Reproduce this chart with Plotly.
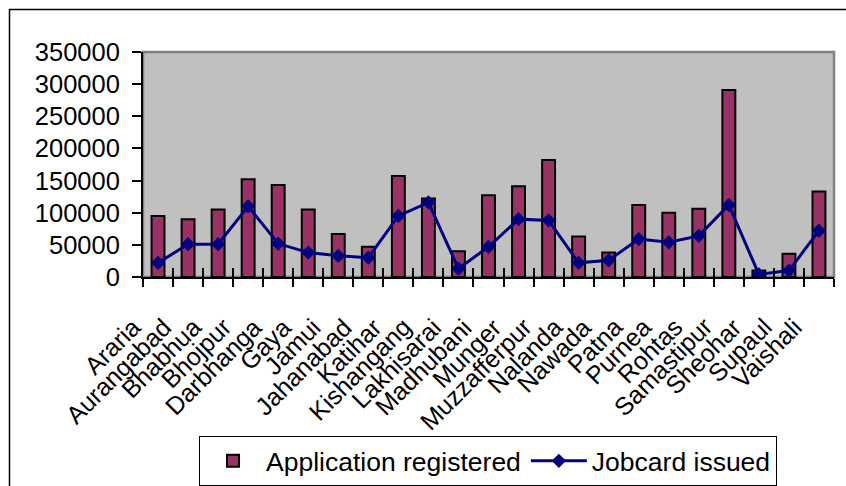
import plotly.graph_objects as go

# District-wise figures
districts = [
    "Araria", "Aurangabad", "Bhabhua", "Bhojpur", "Darbhanga", "Gaya", "Jamui",
    "Jahanabad", "Katihar", "Kishangang", "Lakhisarai", "Madhubani", "Munger",
    "Muzzafferpur", "Nalanda", "Nawada", "Patna", "Purnea", "Rohtas",
    "Samastipur", "Sheohar", "Supaul", "Vaishali",
]
applications_registered = [
    95000, 90000, 105000, 152000, 143000, 105000, 67000,
    47000, 157000, 122000, 40000, 127000, 141000,
    182000, 63000, 38000, 112000, 100000, 106000,
    291000, 10000, 36000, 133000,
]
jobcards_issued = [
    22000, 51000, 51000, 110000, 52000, 38000, 33000,
    30000, 95000, 116000, 13000, 47000, 90000,
    88000, 22000, 26000, 59000, 54000, 64000,
    112000, 4000, 10000, 72000,
]
y_ticks = [0, 50000, 100000, 150000, 200000, 250000, 300000, 350000]

FONT = "Liberation Sans, Arial, sans-serif"
BAR_COLOR = "#993366"
LINE_COLOR = "#000080"

fig = go.Figure()

fig.add_trace(go.Bar(
    x=districts,
    y=applications_registered,
    name="Application registered",
    marker=dict(color=BAR_COLOR, line=dict(color="#000000", width=2)),
))

fig.add_trace(go.Scatter(
    x=districts,
    y=jobcards_issued,
    name="Jobcard issued",
    mode="lines+markers",
    line=dict(color=LINE_COLOR, width=3),
    marker=dict(symbol="diamond", size=11, color=LINE_COLOR),
))

n = len(districts)
boundaries = [i - 0.5 for i in range(n + 1)]

# slanted district names, right/top end hung just left of each category
category_labels = [
    dict(x=name, xref="x", y=0, yref="paper",
         text=name, showarrow=False, textangle=-45,
         xanchor="right", yanchor="top", xshift=-9, yshift=-33,
         font=dict(family=FONT, size=25, color="#000000"))
    for name in districts
]

fig.update_layout(
    width=846,
    height=486,
    margin=dict(l=143, r=12, t=52, b=209, autoexpand=False),
    paper_bgcolor="#ffffff",
    plot_bgcolor="#C0C0C0",
    font=dict(family=FONT, size=25.5, color="#000000"),
    bargap=0.57,
    showlegend=True,
    legend=dict(
        orientation="h",
        x=0.4993, xanchor="center",
        y=-0.818, yanchor="middle",
        bordercolor="#000000", borderwidth=1,
        bgcolor="#ffffff",
        font=dict(family=FONT, size=26.5),
        itemwidth=56,
    ),
    xaxis=dict(
        type="category",
        range=[-0.5, n - 0.5],
        tickmode="linear",
        tick0=0,
        dtick=1,
        ticks="outside",
        tickson="boundaries",
        ticklen=8,
        tickwidth=1.5,
        tickcolor="#000000",
        showticklabels=False,
        showline=True,
        linecolor="#000000",
        linewidth=2,
        showgrid=False,
        automargin=False,
    ),
    xaxis2=dict(
        overlaying="x",
        anchor="y",
        range=[-0.5, n - 0.5],
        tickvals=boundaries,
        ticks="inside",
        ticklen=9,
        tickwidth=1.5,
        tickcolor="#000000",
        showticklabels=False,
        showgrid=False,
        showline=False,
        zeroline=False,
    ),
    yaxis=dict(
        range=[0, 350000],
        tickvals=y_ticks,
        tickformat="d",
        ticks="outside",
        ticklen=9,
        tickwidth=1.5,
        tickcolor="#000000",
        showline=True,
        linecolor="#000000",
        linewidth=2,
        showgrid=False,
        zeroline=False,
        ticklabelstandoff=7,
        automargin=False,
    ),
    annotations=category_labels,
    shapes=[
        # grey plot-area border (top and right edges show)
        dict(type="rect", xref="paper", yref="paper", x0=0, x1=1, y0=0, y1=1,
             line=dict(color="#808080", width=2.5), layer="below"),
        # outer chart frame
        dict(type="rect", xref="paper", yref="paper",
             x0=-0.1932, x1=1.03, y0=-0.96, y1=1.189,
             line=dict(color="#000000", width=1.5), layer="above"),
    ],
)

# empty trace so the overlay axis carrying the inner tick marks is drawn
fig.add_trace(go.Scatter(x=[], y=[], xaxis="x2", showlegend=False, hoverinfo="skip"))

fig.write_html("out.html")
